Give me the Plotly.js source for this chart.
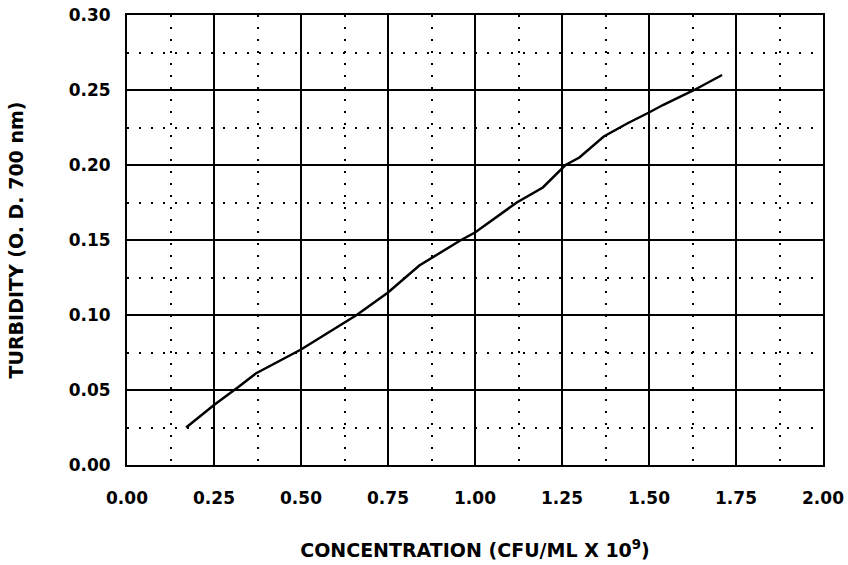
<!DOCTYPE html>
<html>
<head>
<meta charset="utf-8">
<script src="https://cdn.plot.ly/plotly-3.0.1.min.js"></script>
<style>html,body{margin:0;padding:0;background:#fff;}#chart{width:848px;height:565px;}</style>
</head>
<body>
<div id="chart"></div>
<script>
const concentration = [0.17, 0.25, 0.32, 0.37, 0.50, 0.66, 0.75, 0.84, 0.96, 1.00, 1.12, 1.195, 1.26, 1.30, 1.37, 1.44, 1.50, 1.54, 1.63, 1.71];
const turbidity     = [0.025, 0.040, 0.052, 0.061, 0.077, 0.100, 0.115, 0.133, 0.150, 0.155, 0.175, 0.185, 0.200, 0.205, 0.219, 0.228, 0.235, 0.240, 0.250, 0.260];
const xTitle = 'CONCENTRATION (CFU/ML X 10<sup>9</sup>)';
const yTitle = 'TURBIDITY (O. D. 700 nm)';

const tickFont = {family: 'DejaVu Sans', size: 17, color: '#000', weight: 'bold'};
const titleFont = {family: 'DejaVu Sans', size: 19, color: '#000', weight: 'bold'};

const axisCommon = {
  showline: true, mirror: true, linecolor: '#000', linewidth: 2,
  showgrid: true, gridcolor: '#000', gridwidth: 2,
  zeroline: false,
  ticks: 'outside', tickcolor: 'rgba(0,0,0,0)',
  tickformat: '.2f', tickfont: tickFont,
};

const trace = {
  x: concentration, y: turbidity, type: 'scatter', mode: 'lines',
  line: {color: '#000', width: 2.5}, hoverinfo: 'skip'
};

const layout = {
  width: 848, height: 565,
  margin: {l: 127, r: 25, t: 15, b: 100},
  paper_bgcolor: '#fff', plot_bgcolor: '#fff',
  showlegend: false,
  xaxis: Object.assign({}, axisCommon, {
    range: [0, 2], dtick: 0.25, tick0: 0, ticklen: 17,
    minor: {dtick: 0.125, showgrid: true, gridcolor: '#000', gridwidth: 2, griddash: '2px,10px', ticks: ''},
    title: {text: xTitle, font: titleFont, standoff: 36}
  }),
  yaxis: Object.assign({}, axisCommon, {
    range: [0, 0.30], dtick: 0.05, tick0: 0, ticklen: 11,
    minor: {dtick: 0.025, showgrid: true, gridcolor: '#000', gridwidth: 2, griddash: '2px,10px', ticks: ''},
    title: {text: yTitle, font: titleFont, standoff: 40}
  })
};

Plotly.newPlot('chart', [trace], layout, {displayModeBar: false, staticPlot: true});
</script>
</body>
</html>
